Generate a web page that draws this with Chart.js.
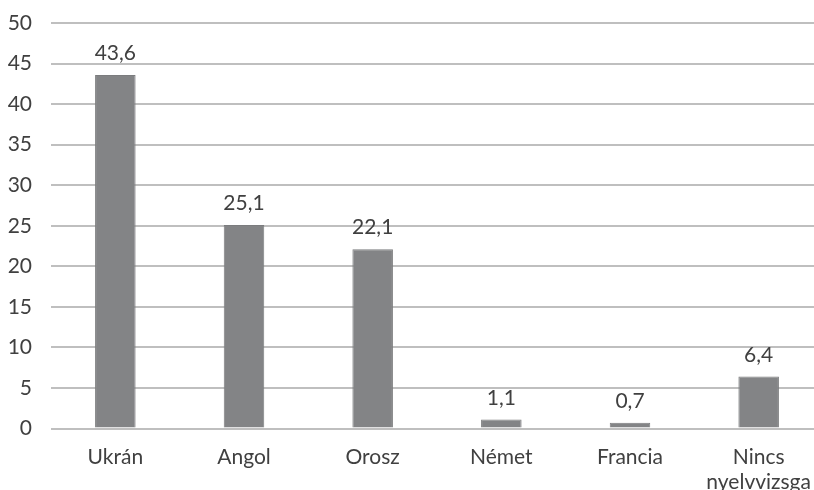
<!DOCTYPE html>
<html lang="hu">
<head>
<meta charset="utf-8">
<title>Nyelvvizsga</title>
<script src="https://cdn.jsdelivr.net/npm/chart.js@4.4.1/dist/chart.umd.min.js"></script>
<style>
    html, body { margin: 0; padding: 0; background: #fff; overflow: hidden; }
    #wrap { position: relative; width: 823px; height: 490px; }
</style>
</head>
<body>
<div id="wrap"><canvas id="nyelvChart"></canvas></div>
<script>
// Adatok
const kategoriak = ['Ukrán', 'Angol', 'Orosz', 'Német', 'Francia', ['Nincs', 'nyelvvizsga']];
const ertekek = [43.6, 25.1, 22.1, 1.1, 0.7, 6.4];
const yTickek = [0, 5, 10, 15, 20, 25, 30, 35, 40, 45, 50];

const SZOVEG = '#404040';
const RACS = '#bfbfbf';
const BETU = "Lato, 'Open Sans', sans-serif";

// Értékcímkék az oszlopok fölött (tizedesvessző)
const ertekCimkek = {
    id: 'ertekCimkek',
    afterDatasetsDraw(chart) {
        const ctx = chart.ctx;
        const meta = chart.getDatasetMeta(0);
        ctx.save();
        ctx.font = `21px ${BETU}`;
        ctx.fillStyle = SZOVEG;
        ctx.textAlign = 'center';
        ctx.textBaseline = 'alphabetic';
        meta.data.forEach((bar, i) => {
            const txt = ertekek[i].toFixed(1).replace('.', ',');
            ctx.fillText(txt, bar.x, bar.y - 15);
        });
        ctx.restore();
    }
};

new Chart(document.getElementById('nyelvChart'), {
    type: 'bar',
    data: {
        labels: kategoriak,
        datasets: [{
            data: ertekek,
            backgroundColor: '#838486',
            borderColor: '#7b7c7e',
            borderWidth: 1,
            categoryPercentage: 1,
            barPercentage: 0.315
        }]
    },
    options: {
        responsive: true,
        maintainAspectRatio: false,
        animation: false,
        layout: { padding: { top: 23, left: 0, right: 0, bottom: 0 } },
        plugins: {
            legend: { display: false },
            tooltip: { enabled: false }
        },
        scales: {
            x: {
                grid: { display: false },
                border: { display: false },
                ticks: {
                    color: SZOVEG,
                    font: { size: 21, family: BETU, lineHeight: 1.2 },
                    padding: 8,
                    maxRotation: 0,
                    autoSkip: false
                },
                afterFit(scale) { scale.height = 61.5; }
            },
            y: {
                min: 0,
                max: 50,
                afterBuildTicks(scale) { scale.ticks = yTickek.map(v => ({ value: v })); },
                grid: { color: RACS, lineWidth: 2, drawTicks: false },
                border: { display: false },
                ticks: {
                    color: SZOVEG,
                    font: { size: 21, family: BETU },
                    padding: 19
                },
                afterFit(scale) {
                    scale.width = 51;
                    scale.paddingTop = 0;
                    scale.paddingBottom = 0;
                }
            }
        }
    },
    plugins: [ertekCimkek]
});
</script>
</body>
</html>
